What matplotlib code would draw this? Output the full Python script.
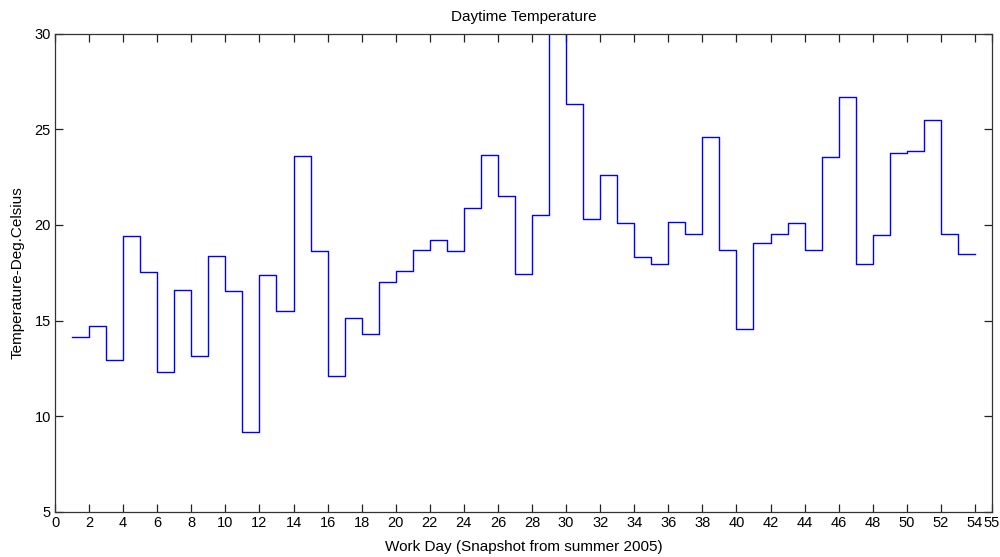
import matplotlib
matplotlib.use("Agg")
import matplotlib.pyplot as plt
import numpy as np

days = list(range(1, 55))
temps = [14.15, 14.7, 12.95, 19.4, 17.55, 12.3, 16.6, 13.15, 18.35, 16.55,
         9.2, 17.4, 15.5, 23.6, 18.65, 12.1, 15.15, 14.3, 17.0, 17.6,
         18.7, 19.2, 18.65, 20.9, 23.65, 21.5, 17.45, 20.5, 31.5, 26.3,
         20.3, 22.6, 20.1, 18.3, 17.95, 20.15, 19.55, 24.6, 18.7, 14.55,
         19.05, 19.55, 20.1, 18.7, 23.55, 26.7, 17.95, 19.45, 23.75, 23.85,
         25.5, 19.55, 18.5, 18.5]
xticks = list(range(0, 55, 2)) + [55]
yticks = [5, 10, 15, 20, 25, 30]

plt.rcParams['font.family'] = ['Liberation Sans', 'DejaVu Sans']
fig = plt.figure(figsize=(10, 5.57), dpi=100)
ax = fig.add_axes([0.055, 0.0808, 0.937, 0.859])
ax.step(days, temps, where='post', color=(0, 0, 1), lw=1.0)
ax.set_xlim(0, 55)
ax.set_ylim(5, 30)
ax.set_xticks(xticks)
ax.set_xticklabels([str(t) for t in xticks], fontsize=10.5)
ax.set_yticks(yticks)
ax.set_yticklabels([str(t) for t in yticks], fontsize=10.5)
ax.tick_params(direction='in', top=True, right=True, length=6, width=0.9, pad=3,
               colors='#222222', labelcolor='black')
for s in ax.spines.values():
    s.set_linewidth(0.9)
    s.set_color('#333333')
ax.set_title('Daytime Temperature', fontsize=11, pad=9)
ax.set_xlabel('Work Day (Snapshot from summer 2005)', fontsize=11, labelpad=7)
ax.set_ylabel('Temperature-Deg.Celsius', fontsize=11, labelpad=7)
fig.savefig('out.png', dpi=100)
